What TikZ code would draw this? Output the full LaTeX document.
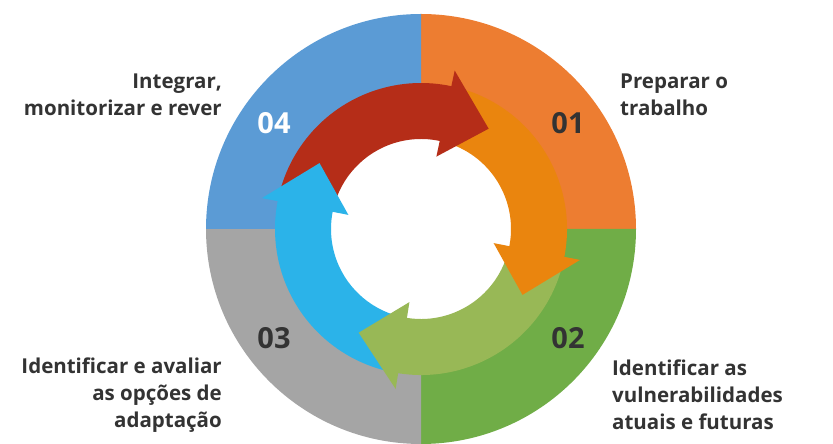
\documentclass[tikz,border=0pt]{standalone}
\usepackage{fontspec}
\setmainfont{Open Sans}
\usetikzlibrary{positioning}

\definecolor{quadorange}{HTML}{ED7D31}
\definecolor{quadgreen}{HTML}{70AD47}
\definecolor{quadgray}{HTML}{A5A5A5}
\definecolor{quadblue}{HTML}{5B9BD5}
\definecolor{arrred}{HTML}{B52D18}
\definecolor{arrorange}{HTML}{EA850E}
\definecolor{arrgreen}{HTML}{98B856}
\definecolor{arrblue}{HTML}{2BB3E9}
\definecolor{textdark}{HTML}{333333}

\tikzset{
  num/.style={font=\bfseries\fontsize{29}{29}\selectfont, text=textdark, inner sep=0pt},
  lbl/.style={font=\bfseries\fontsize{20.5}{27}\selectfont, text=textdark, inner sep=0pt},
}

% body of a ring arrow: colour, start angle, base angle
\newcommand{\ringbody}[3]{%
  \fill[#1] (#2:90) arc[start angle=#2, end angle=#3, radius=90]
    -- (#3:146) arc[start angle=#3, end angle=#2, radius=146] -- cycle;}
% head of a ring arrow: colour, base angle, tip angle
\newcommand{\ringhead}[3]{%
  \fill[#1] (#2:74) -- (#3:121) -- (#2:162) -- cycle;}

\begin{document}
\begin{tikzpicture}[x=1pt, y=1pt]
  \useasboundingbox (0,0) rectangle (833,444);

  \begin{scope}[shift={(421,215)}]
    % quadrants
    \fill[quadorange] (0,0) -- (90:215) arc[start angle=90, end angle=0, radius=215] -- cycle;
    \fill[quadgreen] (0,0) -- (0:215) arc[start angle=0, end angle=-90, radius=215] -- cycle;
    \fill[quadgray] (0,0) -- (-90:215) arc[start angle=-90, end angle=-180, radius=215] -- cycle;
    \fill[quadblue] (0,0) -- (180:215) arc[start angle=180, end angle=90, radius=215] -- cycle;
    \fill[white] (0,0) circle[radius=91];

    % ring of arrows
    \ringbody{arrorange}{76}{-13}
    \ringbody{arrgreen}{-12}{-101}
    \ringbody{arrblue}{-100}{-193}
    \ringbody{arrred}{167}{76}
    \ringhead{arrorange}{-11}{-33}
    \ringhead{arrgreen}{-99}{-121}
    \ringhead{arrblue}{169}{147}
    \ringhead{arrred}{78}{56}

    \node[num, text=white] (n4) at (-147,106) {04};
    \node[num] (n1) at (147,106) {01};
    \node[num] (n3) at (-147,-109) {03};
    \node[num] (n2) at (147,-109) {02};
  \end{scope}

  \node[lbl, align=right, anchor=east] (integrar) at (222,349) {Integrar,\\monitorizar e rever};
  \node[lbl, align=left, anchor=west] (preparar) at (620,349) {Preparar o\\trabalho};
  \node[lbl, align=right, anchor=east] (avaliar) at (222,49) {Identificar e avaliar\\as opções de\\adaptação};
  \node[lbl, align=left, anchor=west] (vulner) at (612,49) {Identificar as\\vulnerabilidades\\atuais e futuras};
\end{tikzpicture}
\end{document}
